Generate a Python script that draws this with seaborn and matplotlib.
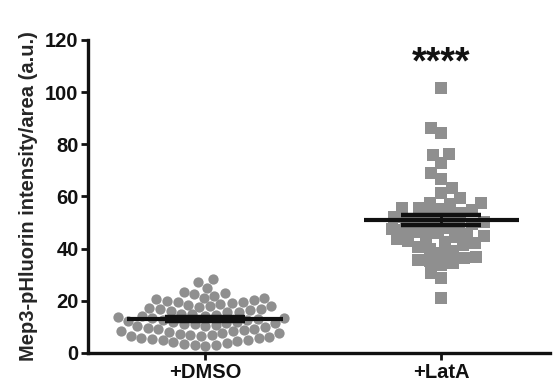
import matplotlib
matplotlib.use('Agg')
import matplotlib.pyplot as plt
import seaborn as sns
import numpy as np
import pandas as pd

groups = ['+DMSO', '+LatA']

dmso = [28.4, 27.2, 25.0, 23.4,
        22.8, 22.0, 21.0, 20.5, 20.0, 19.5, 19.0, 18.5, 18.0, 17.5, 17.2, 16.8,
        16.5, 16.2, 15.8, 15.5, 17.0, 17.8, 18.6, 19.4, 20.2, 21.2, 22.4,
        15.0, 14.6, 14.2, 13.8, 13.5, 13.2, 13.0, 12.8, 12.5, 12.2, 12.0, 11.8,
        11.5, 14.3, 14.8,
        11.2, 11.0, 10.6, 10.2, 9.8, 9.5, 9.2, 8.8, 8.5, 8.3, 8.0, 7.8,
        7.5, 7.3, 7.0, 10.4, 11.4, 9.0,
        6.8, 6.5, 6.2, 5.8, 5.5, 5.0, 4.5, 4.0, 3.6, 3.2, 2.8, 3.0, 3.8, 4.8,
        5.6, 6.4]

lata = [101.6, 86.3, 84.3, 76.3, 75.9, 72.9, 69.0, 66.7, 63.3, 61.3, 59.4,
        57.5, 57.0, 57.5, 55.6, 55.6, 55.2, 54.8, 53.7, 53.0, 52.5, 52.0,
        51.5, 51.0, 50.5, 50.0, 49.5, 49.0, 48.5, 48.0, 47.5, 47.0, 46.5,
        46.0, 45.5, 45.0, 44.5, 44.0, 43.5, 43.0, 42.5, 42.0, 41.4, 40.6,
        39.9, 39.1, 38.3, 36.8, 36.4, 35.7, 35.3, 34.5, 33.7, 30.7, 28.8, 21.1]

df = pd.DataFrame({'group': ['+DMSO'] * len(dmso) + ['+LatA'] * len(lata),
                   'value': dmso + lata})

sns.set_style('white')
plt.rcParams['font.family'] = ['Liberation Sans', 'DejaVu Sans']
plt.rcParams['font.weight'] = 'bold'

fig = plt.figure(figsize=(5.55, 3.84), dpi=100)
ax = fig.add_axes([0.159, 0.081, 0.832, 0.815])

gray = '#8f8f8f'
sns.swarmplot(data=df[df.group == '+DMSO'], x='group', y='value', order=groups,
              color=gray, marker='o', size=7.4, linewidth=0, ax=ax, zorder=2)
sns.swarmplot(data=df[df.group == '+LatA'], x='group', y='value', order=groups,
              color=gray, marker='s', size=8.2, linewidth=0, ax=ax, zorder=2)

# mean line + SEM
for i, vals in enumerate([dmso, lata]):
    v = np.array(vals)
    m = v.mean()
    sem = v.std(ddof=1) / np.sqrt(len(v))
    ax.hlines(m, i - 0.33, i + 0.33, color='#111111', lw=3, zorder=3)
    ax.errorbar(i, m, yerr=sem, color='#111111', capsize=29, capthick=3.2,
                elinewidth=2, zorder=3)

ax.text(1, 111, '****', ha='center', va='center', fontsize=27,
        fontweight='bold', color='#111111')

ax.set_xlim(-0.496, 1.46)
ax.set_ylim(0, 120)
ax.set_yticks(np.arange(0, 121, 20))
ax.set_xlabel('')
ax.set_ylabel('Mep3-pHluorin intensity/area (a.u.)', fontsize=14.5,
              fontweight='bold', labelpad=5)
ax.tick_params(axis='both', which='both', direction='out', length=5, width=2,
               colors='#111111', labelsize=14.5, left=True, bottom=True, pad=2)
for lab in ax.get_xticklabels() + ax.get_yticklabels():
    lab.set_fontweight('bold')
sns.despine(ax=ax)
for s in ['left', 'bottom']:
    ax.spines[s].set_linewidth(2.4)
    ax.spines[s].set_color('#111111')

fig.savefig('out.png', dpi=100)
